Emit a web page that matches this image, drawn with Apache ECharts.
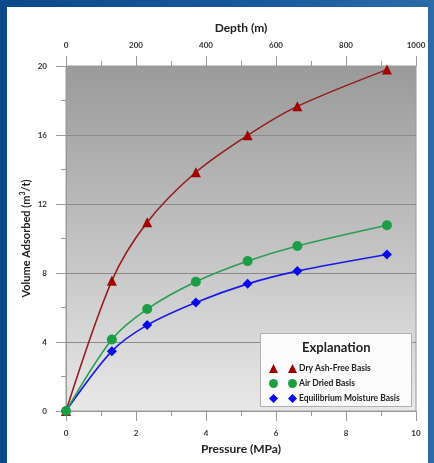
<!DOCTYPE html>
<html>
<head>
<meta charset="utf-8">
<script src="https://cdn.jsdelivr.net/npm/echarts@6/dist/echarts.min.js"></script>
<style>
  html, body { margin: 0; padding: 0; }
  body { width: 434px; height: 463px; overflow: hidden; position: relative;
         background: linear-gradient(90deg, #0c4a89 0%, #17599a 60%, #2c6ba8 100%); }
  #panel { position: absolute; left: 7px; top: 7px; width: 421px; height: 456px; background: #fff; }
  #chart { position: absolute; left: 0; top: 0; width: 434px; height: 463px; }
</style>
</head>
<body>
<div id="panel"></div>
<div id="chart"></div>
<script>
// pressure (MPa) of each measurement
const pressure = [0, 1.31, 2.32, 3.71, 5.19, 6.61, 9.17];
// volume adsorbed (m3/t)
const dryAshFree = [0, 7.55, 10.94, 13.84, 15.98, 17.66, 19.79];
const airDried = [0, 4.15, 5.91, 7.49, 8.69, 9.57, 10.77];
const equilibriumMoisture = [0, 3.47, 4.98, 6.29, 7.37, 8.11, 9.07];
const seriesNames = ['Dry Ash-Free Basis', 'Air Dried Basis', 'Equilibrium Moisture Basis'];

const FONT = 'Lato';
const pair = vals => pressure.map((p, i) => [p, vals[i]]);

const chart = echarts.init(document.getElementById('chart'));

const axisBase = {
  axisLine: { show: true, lineStyle: { color: '#9a9a9a', width: 1 } },
  axisTick: { show: true, length: 10, lineStyle: { color: '#9a9a9a' } },
  minorTick: { show: true, splitNumber: 2, length: 5, lineStyle: { color: '#9a9a9a' } },
  axisLabel: { color: '#333', fontFamily: FONT, fontWeight: 'bold', fontSize: 8, formatter: v => String(v) },
  nameTextStyle: { color: '#222', fontFamily: FONT, fontWeight: 'bold', fontSize: 12 },
  splitLine: { show: false }
};

const legendData = [
  { name: seriesNames[0], icon: 'triangle' },
  { name: seriesNames[1], icon: 'circle' },
  { name: seriesNames[2], icon: 'diamond' }
];

const lineSeries = (name, vals, symbol, lineColor, markColor) => ({
  name, type: 'line', data: pair(vals),
  smooth: 0.3,
  symbol, symbolSize: 10,
  lineStyle: { color: lineColor, width: 1.6 },
  itemStyle: { color: markColor }
});

chart.setOption({
  animation: false,
  grid: {
    left: 66, right: 18, top: 66, bottom: 52,
    show: true, borderColor: '#9a9a9a', borderWidth: 1,
    backgroundColor: new echarts.graphic.LinearGradient(0, 0, 0, 1, [
      { offset: 0, color: '#9a9a9a' },
      { offset: 1, color: '#e8e8e8' }
    ])
  },
  xAxis: [
    Object.assign({}, axisBase, {
      type: 'value', position: 'bottom', min: 0, max: 10, interval: 2,
      name: 'Pressure (MPa)', nameLocation: 'middle', nameGap: 32, nameMoveOverlap: false,
      axisLabel: Object.assign({}, axisBase.axisLabel, { margin: 18 })
    }),
    Object.assign({}, axisBase, {
      type: 'value', position: 'top', min: 0, max: 1000, interval: 200,
      name: 'Depth (m)', nameLocation: 'middle', nameGap: 32, nameMoveOverlap: false,
      axisLabel: Object.assign({}, axisBase.axisLabel, { margin: 17 })
    })
  ],
  yAxis: Object.assign({}, axisBase, {
    type: 'value', min: 0, max: 20, interval: 4,
    name: '{a|Volume Adsorbed (m}{s|3}{a|/t)}', nameLocation: 'middle', nameGap: 33,
    nameMoveOverlap: false,
    nameTextStyle: {
      rich: {
        a: { color: '#222', fontFamily: FONT, fontWeight: 'bold', fontSize: 11, lineHeight: 14 },
        s: { color: '#222', fontFamily: FONT, fontWeight: 'bold', fontSize: 7, lineHeight: 14, verticalAlign: 'top', padding: [0, 0, 6, 0] }
      }
    },
    axisLabel: Object.assign({}, axisBase.axisLabel, { margin: 19 }),
    splitLine: { show: true, lineStyle: { color: '#8a8a8a', width: 1 } }
  }),
  legend: [
    {
      data: legendData, orient: 'vertical', left: 264, top: 359, z: 20,
      itemWidth: 9, itemHeight: 9, itemGap: 6, formatter: () => '',
      selectedMode: false, textStyle: { fontSize: 8 }
    },
    {
      data: legendData, orient: 'vertical', left: 283, top: 359, z: 20,
      itemWidth: 9, itemHeight: 9, itemGap: 6, selectedMode: false,
      textStyle: { color: '#222', fontFamily: FONT, fontWeight: 'bold', fontSize: 8.5, padding: [0, 0, 0, -3] }
    }
  ],
  graphic: [
    {
      type: 'rect', left: 260, top: 333, z: 10,
      shape: { width: 151, height: 73 },
      style: { fill: '#fbfbfb', stroke: '#b0b0b0', lineWidth: 1 }
    },
    {
      type: 'text', left: 302, top: 341, z: 11,
      style: { text: 'Explanation', fill: '#222', font: 'bold 13px Lato' }
    }
  ],
  series: [
    lineSeries(seriesNames[0], dryAshFree, 'triangle', '#941c1c', '#a30000'),
    lineSeries(seriesNames[2], equilibriumMoisture, 'diamond', '#1a1ae6', '#0808f0'),
    lineSeries(seriesNames[1], airDried, 'circle', '#2a9d52', '#1c9e46')
  ]
});
</script>
</body>
</html>
